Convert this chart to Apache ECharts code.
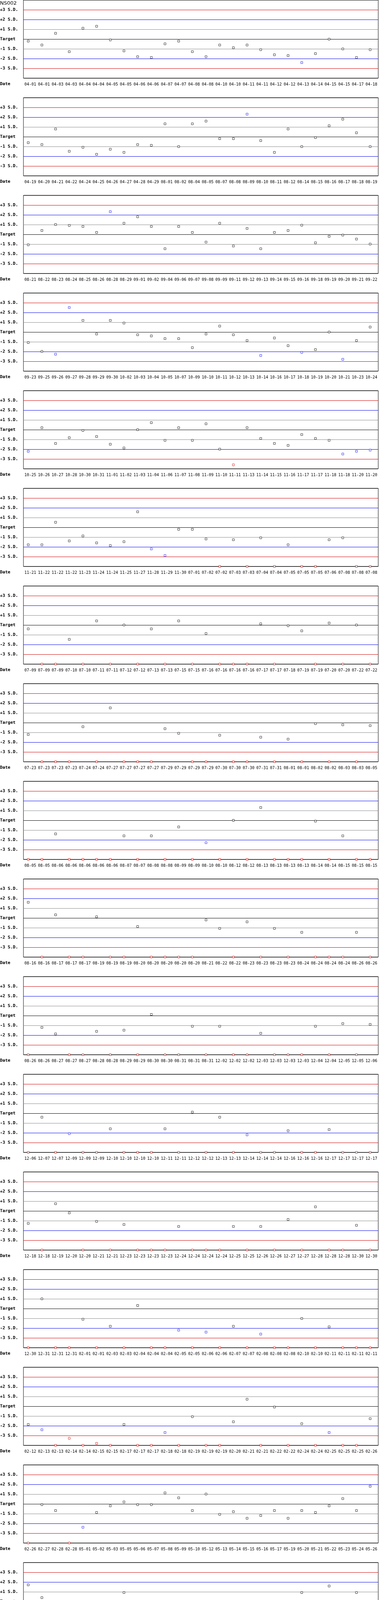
<!DOCTYPE html>
<html>
<head>
<meta charset="utf-8">
<title>NS002</title>
<script src="https://cdn.jsdelivr.net/npm/echarts@6/dist/echarts.min.js"></script>
<style>
  html, body { margin: 0; padding: 0; background: #fff; }
  #chart { width: 970px; height: 5750px; }
</style>
</head>
<body>
<div id="chart"></div>
<script>
var controlName = 'NS002';
var perRow = 26;
// labels for the -4 .. +4 lines
var sdLabels = ['', '-3 S.D.', '-2 S.D.', '-1 S.D.', 'Target', '+1 S.D.', '+2 S.D.', '+3 S.D.', ''];

var runDates = [
    '04-01','04-01','04-03','04-03','04-04','04-04','04-05','04-05','04-06','04-06','04-07','04-07','04-08','04-08','04-10','04-10','04-11','04-11','04-12','04-12','04-13','04-14','04-15','04-15','04-17','04-18',
    '04-19','04-20','04-21','04-22','04-24','04-25','04-26','04-27','04-28','04-29','08-01','08-02','08-04','08-05','08-07','08-08','08-09','08-10','08-11','08-12','08-14','08-15','08-16','08-17','08-18','08-19',
    '08-21','08-22','08-23','08-24','08-25','08-26','08-28','08-29','09-01','09-02','09-04','09-06','09-07','09-08','09-09','09-11','09-12','09-13','09-14','09-15','09-16','09-18','09-19','09-20','09-21','09-22',
    '09-23','09-25','09-26','09-27','09-28','09-29','09-30','10-02','10-03','10-04','10-05','10-07','10-09','10-10','10-11','10-12','10-13','10-14','10-16','10-17','10-18','10-19','10-20','10-21','10-23','10-24',
    '10-25','10-26','10-27','10-28','10-30','10-31','11-01','11-02','11-03','11-04','11-06','11-07','11-08','11-09','11-10','11-11','11-13','11-14','11-15','11-16','11-17','11-17','11-18','11-18','11-20','11-20',
    '11-21','11-22','11-22','11-22','11-23','11-24','11-24','11-25','11-27','11-28','11-29','11-30','07-01','07-02','07-02','07-03','07-03','07-04','07-04','07-05','07-05','07-05','07-06','07-08','07-08','07-08',
    '07-09','07-09','07-09','07-10','07-10','07-11','07-11','07-12','07-12','07-13','07-13','07-15','07-15','07-16','07-16','07-16','07-16','07-17','07-17','07-18','07-19','07-19','07-20','07-20','07-22','07-22',
    '07-23','07-23','07-23','07-23','07-24','07-24','07-27','07-27','07-27','07-27','07-29','07-29','07-29','07-29','07-30','07-30','07-30','07-31','07-31','08-01','08-01','08-02','08-02','08-03','08-03','08-05',
    '08-05','08-05','08-06','08-06','08-06','08-06','08-06','08-07','08-07','08-08','08-08','08-09','08-09','08-10','08-10','08-12','08-12','08-13','08-13','08-13','08-13','08-14','08-14','08-15','08-15','08-15',
    '08-16','08-16','08-17','08-17','08-17','08-19','08-19','08-19','08-20','08-20','08-20','08-20','08-20','08-21','08-22','08-22','08-23','08-23','08-23','08-23','08-24','08-24','08-24','08-24','08-26','08-26',
    '08-26','08-26','08-27','08-27','08-27','08-28','08-28','08-29','08-29','08-30','08-30','08-31','08-31','08-31','12-02','12-02','12-02','12-03','12-03','12-03','12-03','12-04','12-04','12-05','12-05','12-06',
    '12-06','12-07','12-07','12-09','12-09','12-09','12-10','12-10','12-10','12-10','12-11','12-11','12-12','12-12','12-13','12-13','12-14','12-14','12-14','12-16','12-16','12-16','12-17','12-17','12-17','12-17',
    '12-18','12-18','12-19','12-20','12-20','12-21','12-21','12-23','12-23','12-23','12-23','12-24','12-24','12-24','12-24','12-25','12-25','12-26','12-26','12-27','12-27','12-28','12-28','12-28','12-30','12-30',
    '12-30','12-31','12-31','12-31','02-01','02-01','02-03','02-03','02-04','02-04','02-04','02-05','02-05','02-06','02-06','02-07','02-07','02-08','02-08','02-08','02-10','02-10','02-11','02-11','02-11','02-11',
    '02-12','02-13','02-13','02-14','02-14','02-15','02-15','02-17','02-17','02-17','02-18','02-18','02-19','02-19','02-19','02-20','02-21','02-21','02-22','02-22','02-24','02-24','02-25','02-25','02-25','02-26',
    '02-26','02-27','02-28','02-28','05-01','05-02','05-03','05-05','05-06','05-07','05-08','05-09','05-10','05-12','05-13','05-14','05-15','05-16','05-17','05-19','05-20','05-21','05-22','05-23','05-24','05-26',
    '05-27','05-28','05-29','05-30','05-31','07-01','07-02','07-03','07-04','07-05','07-07','07-09','07-10','07-11','07-12','07-14','07-15','07-16','07-17','07-18','07-19','07-21','07-22','07-23','07-24','07-25',
    '07-26','07-28','07-29','07-30','07-31','08-01','08-02','08-04','08-05','08-06','08-07','08-08','08-09','08-11','08-12','08-13','08-14','08-15','08-16','08-18','08-19','08-20','08-21','08-22','08-23','08-25',
    '08-26','08-27','08-28','08-29','08-30','09-01','09-02','09-03','09-04','09-05','09-06','09-08','09-09','09-10','09-11','09-12','09-13','09-15','09-16','09-17','09-18','09-19','09-20','09-22','09-23','09-24',
    '09-25','09-26','09-27','11-01','11-03','11-04','11-05','11-06','11-07','11-08','11-10','11-11','11-12','11-14','11-15','11-15','11-18','11-19','11-20','11-21','11-22','11-24','11-25','11-26','11-27','11-28',
    '11-29','12-01','12-02','12-03','12-04','12-05','12-06','12-08','12-09','12-10','12-11','12-12','12-13','12-15','12-16','12-17','12-18','12-19','12-20','12-22','12-23','12-24','12-25','12-26','12-27','12-29',
    '12-30','12-31','01-01','01-02','01-03','01-05','01-06','01-07','01-08','01-09','01-10','01-12','01-13','01-14','01-15','01-16','01-17','01-19','01-20','01-21','01-22','01-23','01-24','01-26','01-27','01-28',
    '01-29','01-30','01-31'
];

// values in S.D. from target (-4 = drawn on the bottom edge)
var runSD = [
    -0.21,-0.61,0.59,-1.29,1.11,1.31,-0.09,-1.21,-1.81,-1.89,-0.49,-0.21,-1.29,-1.81,-0.61,-0.89,-0.61,-1.09,-1.61,-1.69,-2.41,-1.49,-0.01,-1.01,-1.89,-1.09,
    -0.61,-0.81,0.79,-1.49,-1.08,-1.80,-1.28,-1.60,-0.81,-0.88,1.32,-1.01,1.32,1.60,-0.20,-0.20,2.31,-0.40,-1.60,0.79,-1.01,-0.09,1.12,1.80,0.40,-1.01,
    -1.07,0.40,1.01,0.92,0.81,0.20,2.33,1.14,1.80,0.81,-1.47,0.81,0.20,-0.79,1.14,-1.19,0.61,-1.47,0.20,0.40,0.94,-0.86,-0.20,-0.07,-0.48,-0.99,
    -1.08,-1.98,-2.27,2.51,1.19,-0.20,1.19,0.92,-0.28,-0.40,-0.68,-0.68,-1.60,-0.20,0.61,-0.28,-0.88,-2.40,-0.61,-1.40,-2.08,-1.80,0.00,-2.79,-0.88,0.51,
    -2.21,0.20,-1.41,-0.82,-0.08,-0.70,-1.49,-1.87,0.00,0.72,-1.09,0.20,-1.09,0.60,-1.99,-3.60,0.20,-0.90,-1.41,-1.61,-0.50,-0.90,-1.09,-2.49,-2.21,-2.09,
    -1.79,-1.79,0.52,-1.39,-0.88,-1.59,-1.87,-1.47,1.59,-2.21,-2.89,-0.20,-0.20,-1.19,-4,-1.27,-4,-1.07,-4,-1.79,-4,-4,-1.27,-1.07,-4,-4,
    -0.40,-4,-4,-1.47,-4,0.42,-4,0.00,-4,-0.40,-4,0.42,-4,-0.88,-4,-4,-4,0.12,-4,-0.08,-0.60,-4,0.20,-4,0.00,-4,
    -1.21,-4,-4,-4,-0.42,-4,1.51,-4,-4,-4,-0.62,-1.09,-4,-4,-1.29,-4,-4,-1.49,-4,-1.69,-4,-0.10,-4,-0.22,-4,-0.30,
    -4,-4,-1.39,-4,-4,-4,-4,-1.59,-4,-1.59,-4,-0.68,-4,-2.29,-4,0.00,-4,1.31,-4,-4,-4,-0.08,-4,-1.59,-4,-4,
    1.61,-4,0.32,-4,-4,0.12,-4,-4,-0.88,-4,-4,-4,-4,-0.20,-1.07,-4,-0.40,-4,-1.07,-4,-1.47,-4,-4,-4,-1.47,-4,
    -4,-1.21,-1.87,-4,-4,-1.61,-4,-1.49,-4,0.12,-4,-4,-1.09,-4,-1.09,-4,-4,-1.81,-4,-4,-4,-1.09,-4,-0.82,-4,-0.90,
    -4,-0.40,-4,-2.09,-4,-4,-1.59,-4,-4,-4,-1.59,-4,0.12,-4,-0.40,-4,-2.21,-4,-4,-1.79,-4,-4,-1.67,-4,-4,-4,
    -1.27,-4,0.74,-0.20,-4,-1.07,-4,-1.39,-4,-4,-4,-1.59,-4,-4,-4,-1.59,-4,-1.59,-4,-0.88,-4,0.42,-4,-4,-1.47,-4,
    -4,1.00,-4,-4,-1.09,-4,-1.81,-4,0.32,-4,-4,-2.21,-4,-2.41,-4,-1.81,-4,-2.61,-4,-4,-1.01,-4,-1.87,-4,-4,-4,
    -1.87,-2.41,-4,-3.28,-4,-3.80,-4,-1.87,-4,-4,-2.69,-4,-1.07,-4,-4,-1.59,0.72,-4,-0.08,-4,-1.79,-4,-2.69,-4,-4,-1.27,
    -4,-0.08,-0.68,-4,-2.39,-0.88,-0.20,0.20,-0.08,-0.08,1.13,0.62,-0.68,1.01,-1.07,-0.80,-1.47,-1.19,-0.68,-1.47,-0.68,-0.88,-0.20,0.54,-0.68,1.81,
    1.71,0.40,-1.41,-0.08,-1.01,-1.09,-0.82,0.92,-1.61,-0.50,-1.81,-2.81,-0.30,-0.62,-1.49,-1.09,0.00,-1.21,-1.01,-1.29,0.92,-1.01,1.59,-0.70,0.92,-1.29,
    0.20,-0.08,-2.21,-1.39,0.72,-2.09,2.41,-2.49,-1.47,-0.48,-1.47,1.51,-2.61,-1.27,-1.59,-2.61,-1.99,-2.49,1.31,-0.80,-1.07,-0.88,1.59,1.31,1.31,2.61,
    -0.80,0.42,-1.19,-1.47,-0.20,0.42,0.74,-0.48,-1.39,-1.19,-1.27,0.12,-1.27,-0.60,0.94,1.61,0.74,1.33,0.20,-1.07,-1.87,-0.48,-0.80,-1.67,0.54,-0.60,
    -1.01,-2.21,-0.08,-1.49,-0.82,-1.29,-0.22,-0.30,-0.08,-1.01,-0.50,-2.21,0.00,-1.87,-0.82,-1.61,-1.09,-0.62,-2.61,-1.01,-1.29,-1.29,-0.30,-1.61,-1.09,0.00,
    0.60,-0.08,-2.61,-2.69,1.71,0.52,-0.20,-1.19,-1.39,-1.79,0.00,-2.99,0.40,-0.48,-2.09,-1.39,-0.80,-1.87,-2.49,-1.59,-0.60,-0.20,-1.67,0.12,-0.28,0.12,
    -1.39,-1.39,-1.39,-0.88,-1.19,-1.59,-0.88,-1.19,-1.39,-1.67,-0.99,0.42,-0.80,-1.47,-2.19,-2.19,-0.99,-0.40,-0.48,-0.28,-0.60,-1.87,-0.68,-0.60,-0.48,-2.19,
    -2.28,-2.20,0.20
];

var RED = '#d40000', BLUE = '#0000ee', GRAY = '#888888', BLACK = '#000000';
// split line colours from -4 up to +4
var lineColors = [BLACK, RED, BLUE, GRAY, BLACK, GRAY, BLUE, RED, BLACK];

function pointColor(v) {
    var a = Math.abs(v);
    if (a > 3) return RED;
    if (a > 2) return BLUE;
    return BLACK;
}

function buildOption() {
    var rows = Math.ceil(runSD.length / perRow);
    var grids = [], xAxes = [], yAxes = [], series = [];
    var titles = [{
        text: controlName,
        left: 0,
        top: 2,
        padding: 0,
        textStyle: { fontFamily: 'DejaVu Sans', fontSize: 13, fontWeight: 'normal', color: '#000' }
    }];

    for (var r = 0; r < rows; r++) {
        var panelTop = r * 250;
        var rowDates = runDates.slice(r * perRow, (r + 1) * perRow);
        while (rowDates.length < perRow) rowDates.push('');
        var rowData = runSD.slice(r * perRow, (r + 1) * perRow).map(function (v, i) {
            return { value: [i, v], itemStyle: { borderColor: pointColor(v) } };
        });

        grids.push({
            left: 60, top: panelTop, width: 908, height: 200,
            show: true, borderColor: '#000', borderWidth: 1,
            outerBoundsMode: 'none'
        });
        // point positions
        xAxes.push({ type: 'value', gridIndex: r, min: -0.35, max: 25.59, show: false });
        // date labels
        xAxes.push({
            type: 'category', gridIndex: r, position: 'bottom',
            data: rowDates, boundaryGap: true,
            axisLine: { show: false }, axisTick: { show: false }, splitLine: { show: false },
            axisLabel: { interval: 0, margin: 11, color: '#000', fontFamily: 'DejaVu Sans Mono', fontSize: 10 }
        });
        yAxes.push({
            type: 'value', gridIndex: r, min: -4, max: 4, interval: 1,
            axisLine: { show: false }, axisTick: { show: false },
            axisLabel: {
                margin: 60, align: 'left', color: '#000',
                fontFamily: 'DejaVu Sans Mono', fontSize: 11, fontWeight: 'bold',
                formatter: function (v) { return sdLabels[Math.round(v) + 4] || ''; }
            },
            splitLine: { show: true, lineStyle: { color: lineColors, width: 1 } }
        });
        series.push({
            type: 'scatter',
            xAxisIndex: r * 2,
            yAxisIndex: r,
            symbol: 'rect',
            symbolSize: 5,
            clip: false,
            silent: true,
            itemStyle: { color: '#fff', borderWidth: 1 },
            data: rowData
        });
        titles.push({
            text: 'Date', left: 0, top: panelTop + 210, padding: 0,
            textStyle: { fontFamily: 'DejaVu Sans Mono', fontSize: 11, fontWeight: 'bold', color: '#000' }
        });
    }

    return {
        animation: false,
        backgroundColor: '#fff',
        title: titles,
        grid: grids,
        xAxis: xAxes,
        yAxis: yAxes,
        series: series
    };
}

var myChart = echarts.init(document.getElementById('chart'));
myChart.setOption(buildOption());
</script>
</body>
</html>
